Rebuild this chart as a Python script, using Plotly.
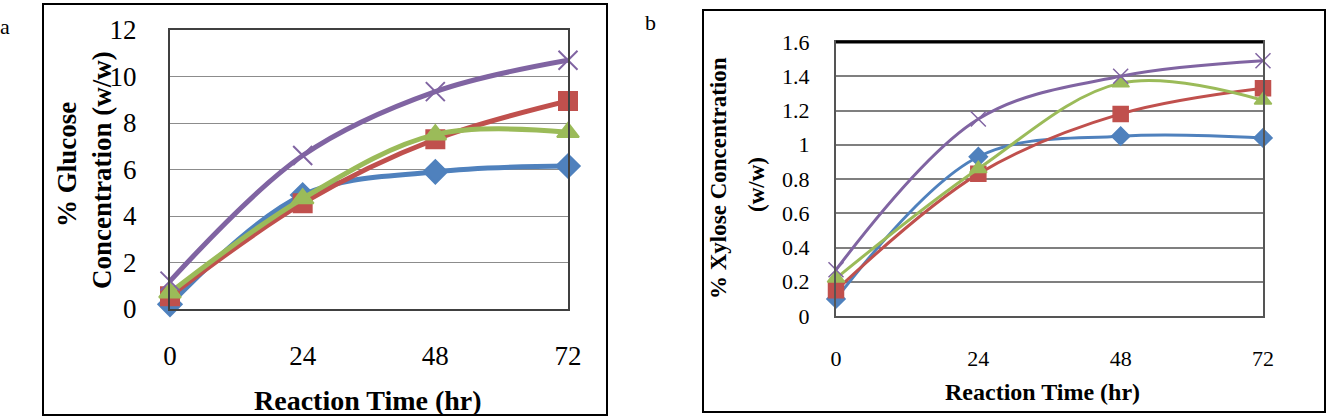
import plotly.graph_objects as go

W, H = 1334, 420

time_hr = [0, 24, 48, 72]
x_tick_labels = ["0", "24", "48", "72"]

# Panel a: % glucose
glucose_blue = [0.2, 4.9, 5.9, 6.15]
glucose_red = [0.55, 4.55, 7.3, 8.95]
glucose_green = [0.7, 4.75, 7.5, 7.6]
glucose_purple = [1.2, 6.6, 9.35, 10.7]
glucose_ticks = [0, 2, 4, 6, 8, 10, 12]

# Panel b: % xylose
xylose_blue = [0.10, 0.93, 1.05, 1.04]
xylose_red = [0.15, 0.83, 1.18, 1.33]
xylose_green = [0.22, 0.86, 1.36, 1.26]
xylose_purple = [0.27, 1.15, 1.40, 1.49]
xylose_ticks = [0, 0.2, 0.4, 0.6, 0.8, 1.0, 1.2, 1.4, 1.6]
xylose_tick_labels = ["0", "0.2", "0.4", "0.6", "0.8", "1", "1.2", "1.4", "1.6"]

BLUE = "#4F81BD"
RED = "#C0504D"
GREEN = "#9BBB59"
PURPLE = "#8064A2"
FONT = "Liberation Serif"


def px_x(p):
    return p / W


def px_y(p):
    return 1 - p / H


fig = go.Figure()

series_a = [
    (glucose_blue, BLUE, "diamond", 18),
    (glucose_red, RED, "square", 18),
    (glucose_green, GREEN, "triangle-up", 19),
    (glucose_purple, PURPLE, "x-thin-open", 19),
]
for vals, col, sym, sz in series_a:
    fig.add_trace(go.Scatter(
        x=time_hr, y=vals, xaxis="x", yaxis="y", mode="lines+markers",
        line=dict(color=col, width=5, shape="spline", smoothing=1),
        marker=dict(symbol=sym, size=sz, color=col, line=dict(color=col, width=2)),
        cliponaxis=False, showlegend=False))

series_b = [
    (xylose_blue, BLUE, "diamond", 14),
    (xylose_red, RED, "square", 15),
    (xylose_green, GREEN, "triangle-up", 15),
    (xylose_purple, PURPLE, "x-thin-open", 15),
]
for vals, col, sym, sz in series_b:
    fig.add_trace(go.Scatter(
        x=time_hr, y=vals, xaxis="x2", yaxis="y2", mode="lines+markers",
        line=dict(color=col, width=3, shape="spline", smoothing=1),
        marker=dict(symbol=sym, size=sz, color=col, line=dict(color=col, width=1.5)),
        cliponaxis=False, showlegend=False))

axis_common = dict(showline=True, mirror=True, zeroline=False, ticks="", automargin=False)

fig.update_layout(
    template="none",
    width=W, height=H, autosize=False,
    margin=dict(l=0, r=0, t=0, b=0, pad=0),
    paper_bgcolor="white", plot_bgcolor="white",
    font=dict(family=FONT, color="black"),
    xaxis=dict(domain=[px_x(170), px_x(568)], range=[0, 72], anchor="y",
               tickvals=time_hr, ticktext=x_tick_labels, showgrid=False,
               linecolor="#404040", linewidth=2, ticklabelstandoff=22,
               tickfont=dict(size=27, family=FONT, color="black"), **axis_common),
    yaxis=dict(domain=[px_y(309), px_y(30)], range=[0, 12], anchor="x",
               tickvals=glucose_ticks, showgrid=True, gridcolor="#8c8c8c", gridwidth=1,
               linecolor="#404040", linewidth=2, ticklabelstandoff=26,
               tickfont=dict(size=27, family=FONT, color="black"), **axis_common),
    xaxis2=dict(domain=[px_x(836), px_x(1263)], range=[0, 72], anchor="y2",
                tickvals=time_hr, ticktext=x_tick_labels, showgrid=False,
                linecolor="#555555", linewidth=2, ticklabelstandoff=22,
                tickfont=dict(size=22, family=FONT, color="black"), **axis_common),
    yaxis2=dict(domain=[px_y(316), px_y(42)], range=[0, 1.6], anchor="x2",
                tickvals=xylose_ticks, ticktext=xylose_tick_labels,
                showgrid=True, gridcolor="#7f7f7f", gridwidth=1.5,
                linecolor="#555555", linewidth=2, ticklabelstandoff=20,
                tickfont=dict(size=22, family=FONT, color="black"), **axis_common),
)

shapes = [
    dict(type="rect", xref="paper", yref="paper",
         x0=px_x(43), x1=px_x(607), y0=px_y(415), y1=px_y(4),
         line=dict(color="black", width=2), layer="below"),
    dict(type="rect", xref="paper", yref="paper",
         x0=px_x(703), x1=px_x(1325), y0=px_y(412), y1=px_y(10),
         line=dict(color="black", width=2), layer="below"),
    dict(type="line", xref="paper", yref="paper",
         x0=px_x(836), x1=px_x(1263), y0=px_y(42), y1=px_y(42),
         line=dict(color="black", width=3)),
]
fig.update_layout(shapes=shapes)


def ann(text, x, y, size, angle=0):
    return dict(text=text, x=px_x(x), y=px_y(y), xref="paper", yref="paper",
                xanchor="center", yanchor="middle", showarrow=False,
                textangle=angle, font=dict(size=size, family=FONT, color="black"))


annotations = [
    ann("a", 5, 26, 22),
    ann("b", 650, 22, 22),
    ann("<b>Reaction Time (hr)</b>", 368, 400, 28),
    ann("<b>% Glucose</b>", 67, 165, 27, -90),
    ann("<b>Concentration (w/w)</b>", 102, 170, 27, -90),
    ann("<b>Reaction Time (hr)</b>", 1042, 392, 24),
    ann("<b>% Xylose Concentration</b>", 718, 178, 23, -90),
    ann("<b>(w/w)</b>", 756, 185, 23, -90),
]
fig.update_layout(annotations=annotations)

fig.write_html("out.html")
